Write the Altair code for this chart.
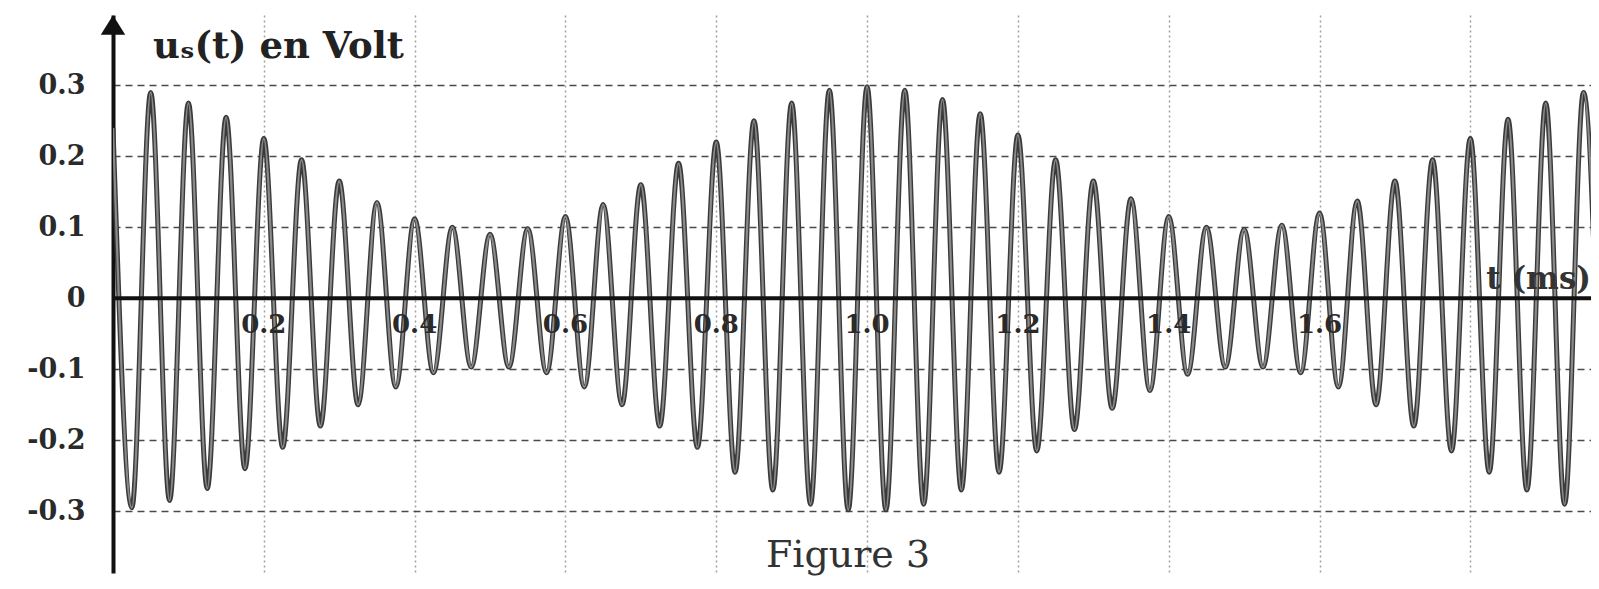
import altair as alt
import pandas as pd

# ---- values ----
start_t = [0.0]
start_v = [0.24]

peak_t = [0.05, 0.10, 0.15, 0.20, 0.25, 0.30, 0.35, 0.40, 0.45, 0.50,
          0.55, 0.60, 0.65, 0.70, 0.75, 0.80, 0.85, 0.90, 0.95, 1.00,
          1.05, 1.10, 1.15, 1.20, 1.25, 1.30, 1.35, 1.40, 1.45, 1.50,
          1.55, 1.60, 1.65, 1.70, 1.75, 1.80, 1.85, 1.90, 1.95]
peak_v = [0.290, 0.275, 0.255, 0.225, 0.195, 0.165, 0.135, 0.112, 0.100, 0.090,
          0.098, 0.115, 0.132, 0.160, 0.190, 0.220, 0.250, 0.275, 0.293, 0.298,
          0.293, 0.280, 0.260, 0.230, 0.195, 0.165, 0.140, 0.115, 0.100, 0.097,
          0.103, 0.120, 0.137, 0.165, 0.195, 0.225, 0.252, 0.275, 0.290]

trough_t = [0.025, 0.075, 0.125, 0.175, 0.225, 0.275, 0.325, 0.375, 0.425, 0.475,
            0.525, 0.575, 0.625, 0.675, 0.725, 0.775, 0.825, 0.875, 0.925, 0.975,
            1.025, 1.075, 1.125, 1.175, 1.225, 1.275, 1.325, 1.375, 1.425, 1.475,
            1.525, 1.575, 1.625, 1.675, 1.725, 1.775, 1.825, 1.875, 1.925, 1.975]
trough_v = [-0.295, -0.285, -0.268, -0.240, -0.210, -0.180, -0.150, -0.125, -0.105, -0.097,
            -0.097, -0.105, -0.125, -0.150, -0.180, -0.210, -0.245, -0.270, -0.290, -0.298,
            -0.298, -0.290, -0.270, -0.245, -0.215, -0.185, -0.155, -0.130, -0.107, -0.097,
            -0.097, -0.105, -0.125, -0.150, -0.180, -0.215, -0.245, -0.270, -0.290, -0.300]

x_grid = [0.2, 0.4, 0.6, 0.8, 1.0, 1.2, 1.4, 1.6, 1.8]
x_tick_values = [0.2, 0.4, 0.6, 0.8, 1.0, 1.2, 1.4, 1.6]
x_tick_labels = ["0.2", "0.4", "0.6", "0.8", "1.0", "1.2", "1.4", "1.6"]
y_tick_values = [-0.3, -0.2, -0.1, 0.0, 0.1, 0.2, 0.3]

y_title = "uₛ(t) en Volt"
x_title = "t (ms)"
fig_title = "Figure 3"

# ---- tables ----
sig = pd.DataFrame({
    "t": start_t + peak_t + trough_t,
    "u": start_v + peak_v + trough_v,
}).sort_values("t").reset_index(drop=True)

xt = pd.DataFrame({"t": x_tick_values, "lab": x_tick_labels, "u": [0.0] * len(x_tick_values)})

W, H = 1478, 558
XDOM = [0, 1.96]
YDOM = [-0.387, 0.399]
FONT = "DejaVu Serif"

xs = alt.Scale(domain=XDOM, nice=False, zero=False)
ys = alt.Scale(domain=YDOM, nice=False, zero=False)

label_expr = ("replace(format(datum.value, '.1f'), '\u2212', '-') == '0.0' ? '0' : "
              "replace(format(datum.value, '.1f'), '\u2212', '-')")

base = alt.Chart(sig)

grid_layer = alt.Chart(pd.DataFrame({"t": [0.0], "u": [0.0]})).mark_point(opacity=0).encode(
    x=alt.X("t:Q", scale=xs,
            axis=alt.Axis(values=x_grid, labels=False, ticks=False, domain=False, title=None,
                          grid=True, gridColor="#a0a0a0", gridDash=[2, 3], gridWidth=1.5)),
    y=alt.Y("u:Q", scale=ys,
            axis=alt.Axis(values=y_tick_values, title=None, ticks=False,
                          labelExpr=label_expr, labelFont=FONT, labelFontWeight="bold",
                          labelFontSize=27, labelColor="#2a2a2a", labelPadding=28,
                          domain=True, domainColor="#111", domainWidth=4,
                          grid=True, gridColor="#4a4a4a", gridDash=[7, 5], gridWidth=1.6)),
)

zero_line = alt.Chart(pd.DataFrame({"u": [0.0]})).mark_rule(color="#111", strokeWidth=4).encode(
    y=alt.Y("u:Q", scale=ys)
)

line_dark = base.mark_line(interpolate="monotone", color="#3a3a3a", strokeWidth=5, clip=True).encode(
    x=alt.X("t:Q", scale=xs), y=alt.Y("u:Q", scale=ys)
)
line_light = base.mark_line(interpolate="monotone", color="#8a8a8a", strokeWidth=2.2, clip=True).encode(
    x=alt.X("t:Q", scale=xs), y=alt.Y("u:Q", scale=ys)
)

arrow = alt.Chart(pd.DataFrame({"t": [0.0], "u": [YDOM[1] - 10 / (H / (YDOM[1] - YDOM[0]))]})).mark_point(
    shape="M-1,0.8 L0,-0.8 L1,0.8 Z", size=600, filled=True, color="#111", opacity=1
).encode(x=alt.X("t:Q", scale=xs), y=alt.Y("u:Q", scale=ys))

xlabels = alt.Chart(xt).mark_text(font=FONT, fontWeight="bold", fontSize=26, color="#2a2a2a",
                                  dy=27, baseline="middle", align="center").encode(
    x=alt.X("t:Q", scale=xs), y=alt.Y("u:Q", scale=ys), text="lab:N"
)

ytitle = alt.Chart(pd.DataFrame({"s": [y_title]})).mark_text(
    font=FONT, fontWeight="bold", fontSize=37, color="#222", align="left", baseline="middle"
).encode(x=alt.value(40), y=alt.value(32), text="s:N")

xtitle = alt.Chart(pd.DataFrame({"s": [x_title]})).mark_text(
    font=FONT, fontWeight="bold", fontSize=31, color="#333", align="right", baseline="middle"
).encode(x=alt.value(1478), y=alt.value(265), text="s:N")

ftitle = alt.Chart(pd.DataFrame({"s": [fig_title]})).mark_text(
    font=FONT, fontSize=38, color="#333", align="center", baseline="alphabetic"
).encode(x=alt.value(735), y=alt.value(552), text="s:N")

chart = alt.layer(grid_layer, line_dark, line_light, zero_line, arrow, xlabels, ytitle, xtitle, ftitle).properties(
    width=W, height=H,
    autosize=alt.AutoSizeParams(type="none"),
    padding={"left": 105, "top": 7, "right": 0, "bottom": 8},
    background="white",
).configure_view(stroke=None)

chart.save("out.html", embed_options={"renderer": "svg", "actions": False})
